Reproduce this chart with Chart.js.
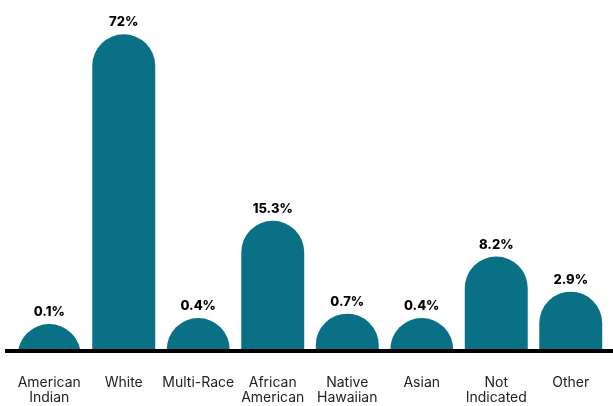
<!DOCTYPE html>
<html>
<head>
<meta charset="utf-8">
<script src="https://cdn.jsdelivr.net/npm/chart.js@4"></script>
<style>
html,body{margin:0;padding:0;background:#fff;}
#wrap{width:613px;height:406px;position:relative;}
</style>
</head>
<body>
<div id="wrap"><canvas id="c"></canvas></div>
<script>
// ---- data ----
const categories = [['American','Indian'],'White','Multi-Race',['African','American'],['Native','Hawaiian'],'Asian',['Not','Indicated'],'Other'];
const percentValues = [0.1, 72, 0.4, 15.3, 0.7, 0.4, 8.2, 2.9];

// ---- a power-type value scale (the reference bars are not drawn linearly) ----
const POWER = 0.65, OFFSET = 1.2;
function fwd(v){ return Math.sign(v) * Math.pow(Math.abs(v), POWER) + OFFSET; }
function inv(t){ const u = t - OFFSET; return Math.sign(u) * Math.pow(Math.abs(u), 1 / POWER); }
class PowerScale extends Chart.LinearScale {
  getPixelForValue(v){ return super.getPixelForValue(fwd(v)); }
  getValueForPixel(p){ return inv(super.getValueForPixel(p)); }
}
PowerScale.id = 'power';
Chart.register(PowerScale);

const overlay = {
  id: 'overlay',
  afterDatasetsDraw(chart){
    const {ctx, chartArea} = chart;
    ctx.save();
    ctx.fillStyle = '#000';
    ctx.fillRect(5, chartArea.bottom - 1, chart.width - 5, 4);
    const meta = chart.getDatasetMeta(0);
    ctx.font = '800 13px Inter';
    ctx.textAlign = 'center';
    ctx.textBaseline = 'alphabetic';
    meta.data.forEach((bar, i) => {
      ctx.fillText(percentValues[i] + '%', bar.x, bar.y - 8);
    });
    ctx.restore();
  }
};

new Chart(document.getElementById('c'), {
  type: 'bar',
  data: {
    labels: categories,
    datasets: [{
      data: percentValues,
      backgroundColor: '#097086',
      borderRadius: {topLeft: 40, topRight: 40, bottomLeft: 0, bottomRight: 0},
      borderSkipped: 'bottom',
      base: -30,
      clip: 0,
      barPercentage: 0.845,
      categoryPercentage: 1
    }]
  },
  options: {
    responsive: true,
    maintainAspectRatio: false,
    animation: false,
    layout: {padding: {left: 12, right: 5, top: 10, bottom: 1}},
    plugins: {legend: {display: false}, tooltip: {enabled: false}},
    scales: {
      x: {
        grid: {display: false, drawTicks: false},
        border: {display: false},
        afterFit(scale){ scale.height = 55; scale.paddingLeft = 0; scale.paddingRight = 0; },
        ticks: {
          color: '#222',
          font: {family: 'Inter', size: 14, lineHeight: 1.08},
          padding: 25,
          maxRotation: 0,
          autoSkip: false
        }
      },
      y: {
        type: 'power',
        display: false,
        min: 0,
        max: 18.65
      }
    }
  },
  plugins: [overlay]
});
</script>
</body>
</html>
